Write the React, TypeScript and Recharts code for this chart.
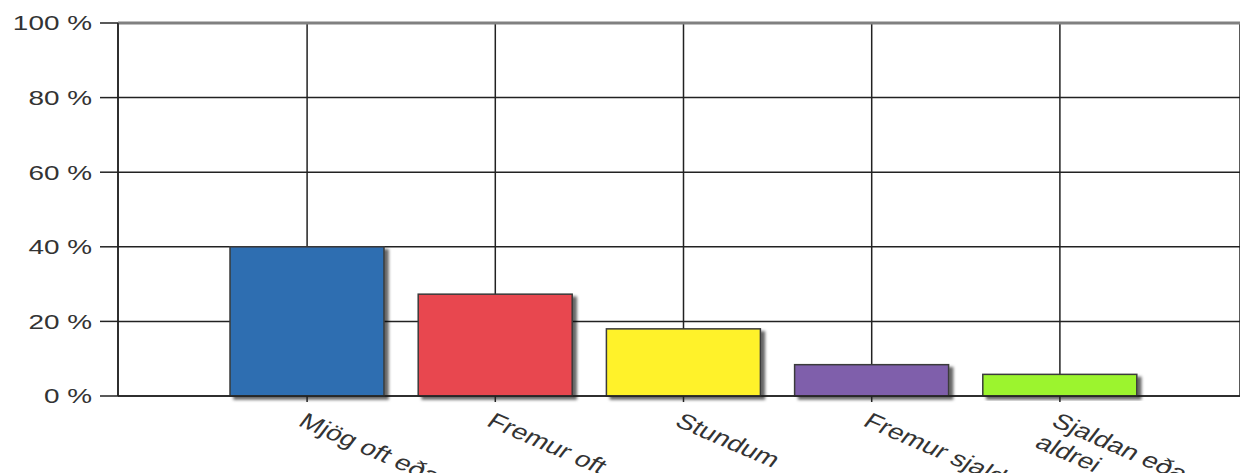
import { BarChart, Bar, XAxis, YAxis, CartesianGrid, Cell, ReferenceLine } from "recharts";

// answer categories (last one wraps onto two lines in the original)
const categories = [
    "Mjög oft eða alltaf",
    "Fremur oft",
    "Stundum",
    "Fremur sjaldan",
    "Sjaldan eða\naldrei",
];
const shares = [40, 27.3, 18, 8.4, 5.8];
const barColors = ["#2f6eb1", "#e8464f", "#fff22b", "#7f5fab", "#9cf42e"];
const yTicks = [0, 20, 40, 60, 80, 100];

const data = categories.map((name, i) => ({ name, value: shares[i] }));

const FONT = '"Liberation Sans", Arial, sans-serif';
// the source image is stretched sideways, so the text is too
const STRETCH = 1.33;

function XTick(props: any) {
    const { x, y, payload } = props;
    const lines = String(payload.value).split("\n");
    return (
        <g transform={`translate(${x},${y}) scale(${STRETCH},1) rotate(30)`}>
            <text x={0} y={0} textAnchor="start" fill="#333" fontSize={21.5} fontFamily={FONT}>
                {lines.map((line, i) => (
                    <tspan key={i} x={0} dy={i === 0 ? "0.7em" : "1.15em"}>
                        {line}
                    </tspan>
                ))}
            </text>
        </g>
    );
}

function YTick(props: any) {
    const { x, y, payload } = props;
    return (
        <g transform={`translate(${x},${y}) scale(${STRETCH},1)`}>
            <text x={0} y={0} dy="0.35em" textAnchor="end" fill="#333" fontSize={21} fontFamily={FONT}>
                {`${payload.value} %`}
            </text>
        </g>
    );
}

function ShadowBar(props: any) {
    const { x, y, width, height, index } = props;
    const fill = props.fill || barColors[index];
    return (
        <rect
            x={x}
            y={y}
            width={width}
            height={height}
            fill={fill}
            stroke="#3a3a3a"
            strokeWidth={1.5}
            filter="url(#barShadow)"
        />
    );
}

export default function App() {
    return (
        <div style={{ position: "absolute", left: 0, top: 0, width: 1240, height: 473, background: "#fff" }}>
            <BarChart
                width={1240}
                height={473}
                data={data}
                margin={{ top: 23, right: 0, bottom: 0, left: 0 }}
            >
                <defs>
                    <filter id="barShadow" x="-10%" y="-10%" width="130%" height="130%">
                        <feDropShadow dx={4} dy={3} stdDeviation={1.8} floodColor="#000" floodOpacity={0.6} />
                    </filter>
                </defs>
                <CartesianGrid stroke="#222" strokeWidth={1.5} />
                <XAxis
                    dataKey="name"
                    height={77}
                    padding={{ left: 95, right: 86 }}
                    tickSize={6}
                    tickMargin={10}
                    interval={0}
                    axisLine={{ stroke: "#222", strokeWidth: 1.5 }}
                    tickLine={{ stroke: "#222", strokeWidth: 1.5 }}
                    tick={<XTick />}
                />
                <YAxis
                    width={118}
                    domain={[0, 100]}
                    ticks={yTicks}
                    interval={0}
                    tickSize={18}
                    tickMargin={8}
                    axisLine={{ stroke: "#222", strokeWidth: 1.5 }}
                    tickLine={{ stroke: "#222", strokeWidth: 1.5 }}
                    tick={<YTick />}
                />
                <ReferenceLine y={100} stroke="#808080" strokeWidth={3} />
                <Bar dataKey="value" barSize={154} shape={<ShadowBar />} isAnimationActive={false}>
                    {data.map((entry, i) => (
                        <Cell key={entry.name} fill={barColors[i]} />
                    ))}
                </Bar>
            </BarChart>
        </div>
    );
}
